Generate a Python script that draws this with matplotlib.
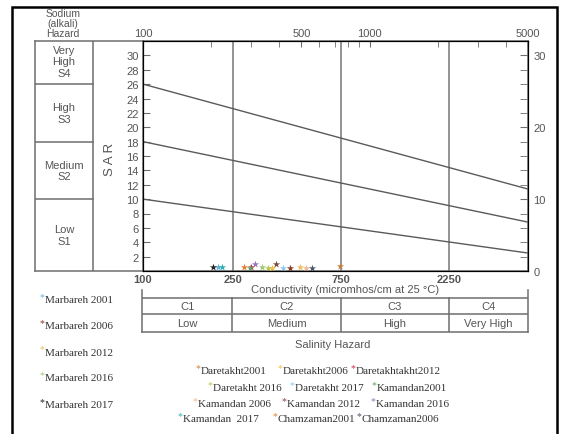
import matplotlib.pyplot as plt
from matplotlib.patches import Rectangle
from matplotlib.ticker import FixedLocator, NullFormatter

# sample series: name, EC (micromhos/cm), SAR, colour
names = ["Marbareh 2001", "Marbareh 2006", "Marbareh 2012", "Marbareh 2016", "Marbareh 2017",
         "Daretakht2001", "Daretakht2006", "Daretakhtakht2012",
         "Daretakht 2016", "Daretakht 2017", "Kamandan2001",
         "Kamandan 2006", " Kamandan 2012", "Kamandan 2016",
         "Kamandan  2017", "Chamzaman2001", " Chamzaman2006"]
ec = [214, 445, 493, 335, 204,
      740, 371, 300,
      356, 415, 297,
      524, 386, 312,
      223, 279, 557]
sar = [0.5, 0.4, 0.5, 0.5, 0.6,
       0.7, 0.4, 0.5,
       0.4, 0.4, 0.4,
       0.4, 1.0, 1.0,
       0.5, 0.5, 0.4]
colors = ["#5fb0e0", "#8b3a2a", "#e8c060", "#a0c878", "#222222",
          "#c87f3f", "#f0c040", "#d03050",
          "#b8c850", "#90c8e8", "#60a860",
          "#f0b890", "#7a4a3a", "#9a70c0",
          "#30b0b0", "#e08030", "#4a5a6a"]

# hazard class boundary lines (SAR at 100 and at 5000 micromhos/cm)
line_sar_100 = [10, 18, 26]
line_sar_5000 = [2.5, 6.8, 11.4]
ec_bounds = [250, 750, 2250]
sodium_labels = ["Low\nS1", "Medium\nS2", "High\nS3", "Very\nHigh\nS4"]
sodium_mid = [5, 14, 22, 29.2]
salinity_codes = ["C1", "C2", "C3", "C4"]
salinity_names = ["Low", "Medium", "High", "Very High"]
top_labels = [100, 500, 1000, 5000]
bottom_labels = [100, 250, 750, 2250]

W, H = 565, 435
GRAY = "#6e6e6e"
TXT = "#555555"
FS = 8
sans = ["Liberation Sans", "DejaVu Sans"]
serif = ["Liberation Serif", "DejaVu Serif"]


def fx(x):
    return x / W


def fy(y):
    return 1 - y / H


fig = plt.figure(figsize=(W / 100, H / 100), dpi=100)

# outer frame
fig.add_artist(Rectangle((fx(12), -0.02), fx(557) - fx(12), fy(8) + 0.02,
                         transform=fig.transFigure, fill=False, lw=1.8, ec="black"))

bottom = fy(272)
height = fy(42) - fy(272)

# sodium hazard column
axl = fig.add_axes([fx(35), bottom, fx(143) - fx(35), height])
axl.set_xlim(0, 108)
axl.set_ylim(0, 32)
axl.patch.set_visible(False)
axl.set_xticks([])
axl.set_yticks([])
for s in axl.spines.values():
    s.set_color(GRAY)
    s.set_linewidth(1.1)
axl.spines["right"].set_visible(False)
axl.axvline(58, color=GRAY, lw=1.1)
for b in line_sar_100:
    axl.plot([0, 58], [b, b], color=GRAY, lw=1.1)
for lab, m in zip(sodium_labels, sodium_mid):
    axl.text(29, m, lab, ha="center", va="center", fontsize=FS, color=TXT,
             family=sans, linespacing=1.2)
axl.text(75, 15.6, "S A R", rotation=90, ha="center", va="center", fontsize=9.5,
         color=TXT, family=sans)
fig.text(fx(63), fy(24), "Sodium\n(alkali)\nHazard", ha="center", va="center",
         fontsize=7.5, color=TXT, family=sans, linespacing=1.05)

# main diagram
ax = fig.add_axes([fx(143), bottom, fx(528) - fx(143), height])
ax.set_xscale("log")
ax.set_xlim(100, 5000)
ax.set_ylim(0, 32)
for s in ax.spines.values():
    s.set_color(GRAY)
    s.set_linewidth(1.1)
for x in ec_bounds:
    ax.axvline(x, color="#8a8a8a", lw=1.3)
for a, b in zip(line_sar_100, line_sar_5000):
    ax.plot([100, 5000], [a, b], color="#5a5a5a", lw=1.0)
for e, s_, c in zip(ec, sar, colors):
    ax.scatter(e, s_, marker="*", s=30, color=c, zorder=5, linewidths=0,
               clip_on=False)

ax.set_yticks(range(2, 31, 2))
ax.tick_params(axis="y", direction="in", length=5, color=GRAY, labelsize=FS,
               labelcolor=TXT, pad=3)
ax.xaxis.set_major_locator(FixedLocator(bottom_labels))
ax.xaxis.set_minor_locator(FixedLocator([]))
ax.set_xticklabels([str(v) for v in bottom_labels])
ax.tick_params(axis="x", length=0, labelsize=FS, labelcolor=TXT, pad=2)
for t in ax.get_xticklabels():
    t.set_family(sans)
    t.set_fontweight("bold")
for t in ax.get_yticklabels():
    t.set_family(sans)

axt = ax.twiny()
axt.set_xscale("log")
axt.set_xlim(100, 5000)
axt.xaxis.set_major_locator(FixedLocator(top_labels))
axt.xaxis.set_minor_locator(FixedLocator([200, 300, 400, 600, 700, 800, 900,
                                          2000, 3000, 4000]))
axt.xaxis.set_minor_formatter(NullFormatter())
axt.set_xticklabels([str(v) for v in top_labels])
axt.tick_params(axis="x", which="both", direction="in", length=4, color=GRAY,
                labelsize=FS, labelcolor=TXT, pad=2)
for t in axt.get_xticklabels():
    t.set_family(sans)

axr = ax.twinx()
axr.set_ylim(0, 32)
axr.set_yticks([0, 10, 20, 30])
axr.set_yticks(range(0, 31, 2), minor=True)
axr.yaxis.set_minor_formatter(NullFormatter())
axr.tick_params(axis="y", which="both", direction="in", length=6, color=GRAY,
                labelsize=FS, labelcolor=TXT, pad=4)
for t in axr.get_yticklabels():
    t.set_family(sans)

fig.text(fx(345), fy(290), "Conductivity (micromhos/cm at 25 \u00b0C)", ha="center",
         va="center", fontsize=FS, color=TXT, family=sans)

# salinity hazard table
axs = fig.add_axes([fx(142), fy(333), fx(528) - fx(142), fy(291) - fy(333)])
axs.set_xscale("log")
axs.set_xlim(100, 5000)
axs.set_ylim(0, 42)
axs.patch.set_visible(False)
axs.set_xticks([])
axs.set_yticks([])
axs.minorticks_off()
axs.spines["top"].set_visible(False)
for k in ["left", "right", "bottom"]:
    axs.spines[k].set_color(GRAY)
    axs.spines[k].set_linewidth(1.1)
axs.axhline(34, color=GRAY, lw=1.1)
axs.axhline(18, color=GRAY, lw=1.1)
for x in ec_bounds:
    axs.plot([x, x], [0, 34], color=GRAY, lw=1.1)
edges = [100] + ec_bounds + [5000]
for i in range(4):
    xm = (edges[i] * edges[i + 1]) ** 0.5
    axs.text(xm, 26, salinity_codes[i], ha="center", va="center", fontsize=FS,
             color=TXT, family=sans)
    axs.text(xm, 9, salinity_names[i], ha="center", va="center", fontsize=FS,
             color=TXT, family=sans)
fig.text(fx(333), fy(345), "Salinity Hazard", ha="center", va="center",
         fontsize=FS, color=TXT, family=sans)

# legend entries (left column, then centred rows)
legend_pos = [(40, 301), (40, 327), (40, 353), (40, 379), (40, 406),
              (196, 372), (278, 372), (351, 372),
              (208, 389), (290, 389), (372, 389),
              (193, 405), (282, 405), (371, 405),
              (178, 420), (273, 420), (357, 420)]
for (x, y), n, c in zip(legend_pos, names, colors):
    fig.text(fx(x), fy(y - 3), "*", ha="left", va="center", fontsize=7,
             color=c, family=serif)
    fig.text(fx(x + 5), fy(y), n.strip(), ha="left", va="center", fontsize=8,
             color="#333333", family=serif)

plt.savefig("out.png", dpi=100)
